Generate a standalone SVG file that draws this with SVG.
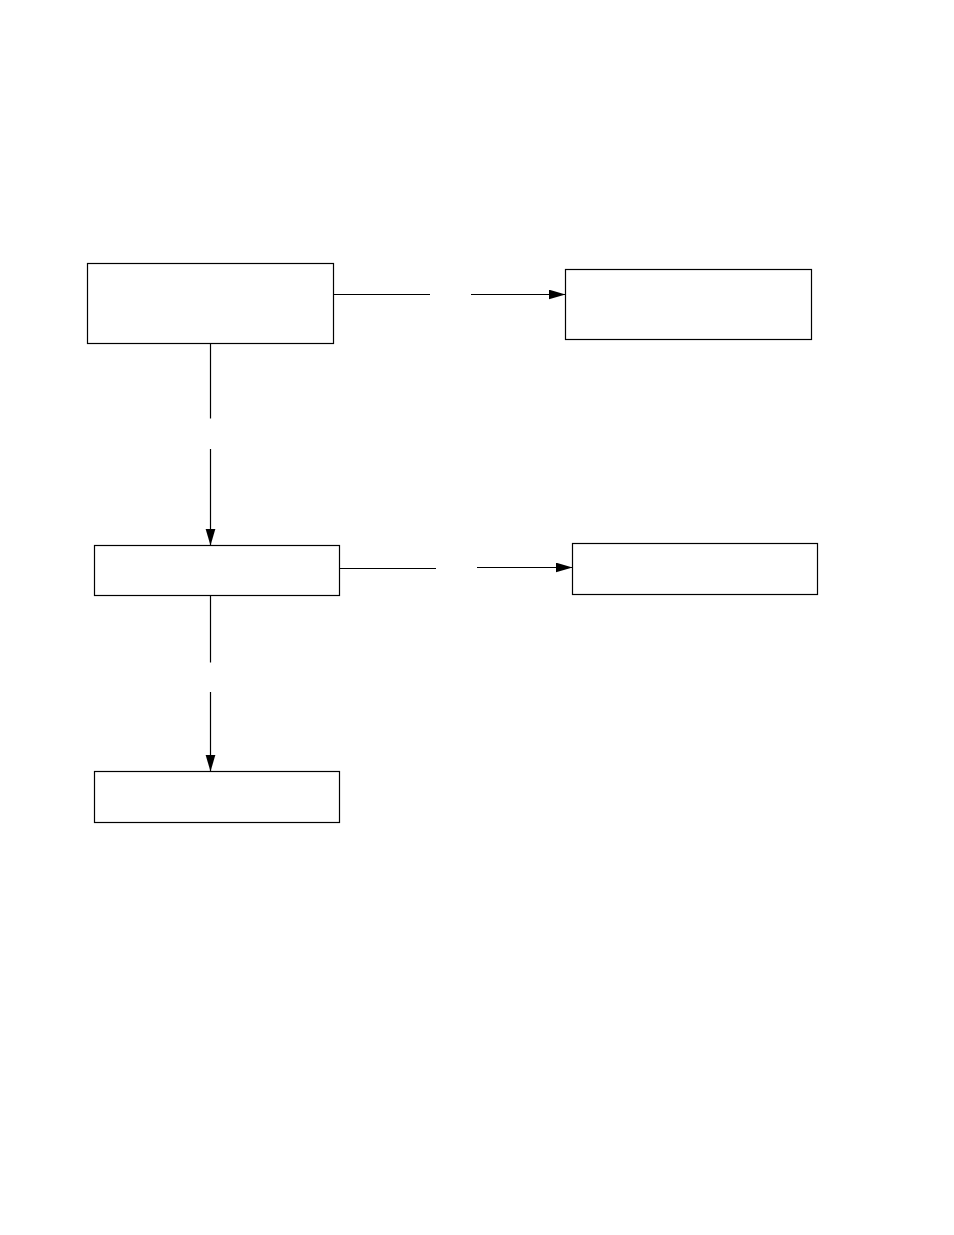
<svg xmlns="http://www.w3.org/2000/svg" width="954" height="1235" viewBox="0 0 954 1235">
<style>
.box{fill:#fff;stroke:#000;stroke-width:1.2}
.ln{fill:none;stroke:#000;stroke-width:1.2}
</style>
<defs>
<marker id="ah" markerUnits="userSpaceOnUse" markerWidth="18" markerHeight="12" refX="17" refY="5" orient="auto">
<path d="M0,0 L17,5 L0,10 Z" fill="#000"/>
</marker>
</defs>
<rect width="954" height="1235" fill="#fff"/>
<g id="connectors">
<line class="ln" x1="333.5" y1="294.5" x2="430" y2="294.5"/>
<line class="ln" x1="471" y1="294.5" x2="565.5" y2="294.5" marker-end="url(#ah)"/>
<line class="ln" x1="210.5" y1="343.5" x2="210.5" y2="418.5"/>
<line class="ln" x1="210.5" y1="449" x2="210.5" y2="545.5" marker-end="url(#ah)"/>
<line class="ln" x1="339.5" y1="568.5" x2="436" y2="568.5"/>
<line class="ln" x1="477" y1="567.5" x2="572.5" y2="567.5" marker-end="url(#ah)"/>
<line class="ln" x1="210.5" y1="595.5" x2="210.5" y2="662.5"/>
<line class="ln" x1="210.5" y1="692" x2="210.5" y2="771.5" marker-end="url(#ah)"/>
</g>
<g id="node1"><rect class="box" x="87.5" y="263.5" width="246" height="80"/></g>
<g id="node2"><rect class="box" x="565.5" y="269.5" width="246" height="70"/></g>
<g id="node3"><rect class="box" x="94.5" y="545.5" width="245" height="50"/></g>
<g id="node4"><rect class="box" x="572.5" y="543.5" width="245" height="51"/></g>
<g id="node5"><rect class="box" x="94.5" y="771.5" width="245" height="51"/></g>
</svg>
